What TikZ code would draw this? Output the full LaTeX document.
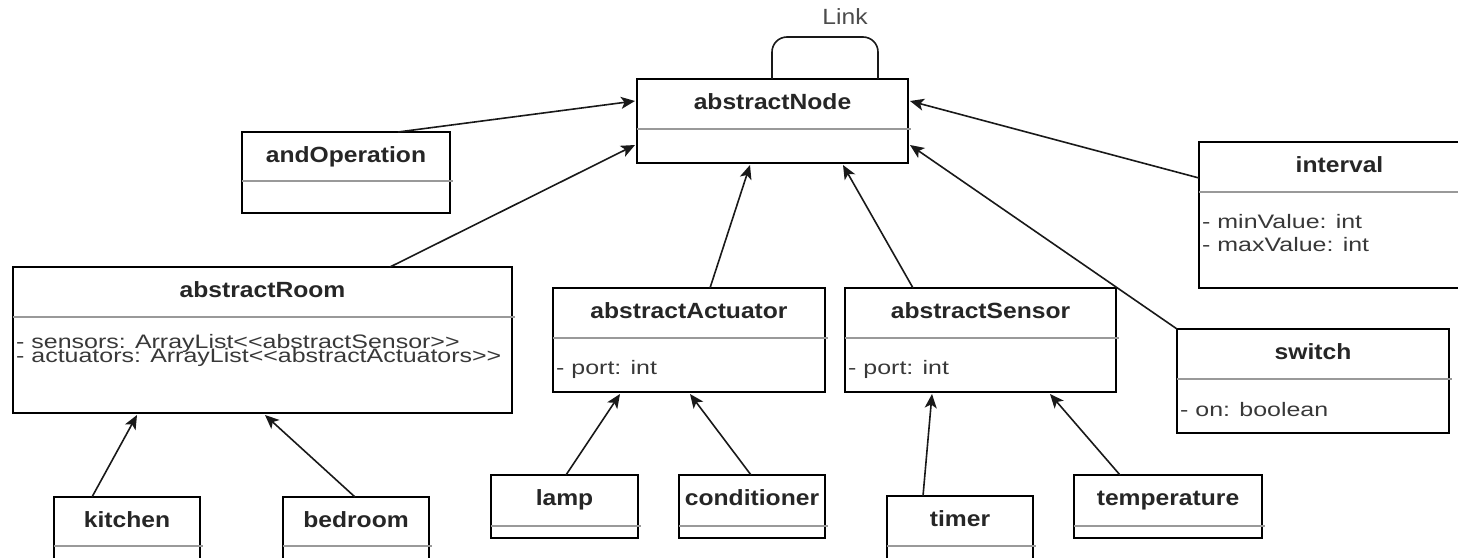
\documentclass[tikz,border=0pt]{standalone}
\usepackage{fontspec}
\setmainfont{Liberation Sans}[FakeStretch=1.12]
\newfontfamily\attrfont{Liberation Sans}[FakeStretch=1.28]
\usetikzlibrary{arrows.meta,calc}
\tikzset{
  clsbox/.style={draw=black, line width=1.8pt, inner sep=0pt, outer sep=0pt, fill=none},
  sepline/.style={draw=black!40, line width=1.3pt},
  ttl/.style={font=\fontsize{22}{24}\selectfont\bfseries, text=black!85, anchor=base, inner sep=0pt},
  attr/.style={font=\attrfont\fontsize{19.5}{21}\selectfont, text=black!78, anchor=base west, inner sep=0pt},
  lbl/.style={font=\fontsize{22}{24}\selectfont, text=black!70, inner sep=0pt},
  inh/.style={-{Stealth[length=14pt,width=12pt,inset=3.5pt]}, line width=1.6pt, draw=black!90},
  loopline/.style={line width=1.6pt, draw=black!90, rounded corners=15pt}
}
\newcommand\umlcls[7]{%
  \node[clsbox, minimum width={(#4-#2)*1pt}, minimum height={(#5-#3)*1pt}] (#1) at ({(#2+#4)/2},{(#3+#5)/2}) {};
  \draw[sepline] (#2,#6) -- ({#4+3},#6);
  \node[ttl] (#1title) at ({(#2+#4)/2},{#3+30}) {#7};
}
\begin{document}
\begin{tikzpicture}[x=1pt,y=-1pt]
\useasboundingbox (0,0) rectangle (1458,557);
\clip (0,0) rectangle (1458,557);
\fill[white] (0,0) rectangle (1458,557);

\umlcls{an}{637}{79}{908}{163}{129}{abstractNode}
\umlcls{andop}{242}{132}{450}{213}{181}{andOperation}
\umlcls{room}{13}{267}{512}{413}{317}{abstractRoom}
\umlcls{act}{553}{288}{825}{392}{338}{abstractActuator}
\umlcls{sen}{845}{288}{1116}{392}{338}{abstractSensor}
\umlcls{interval}{1199}{142}{1480}{288}{192}{interval}
\umlcls{switch}{1177}{329}{1449}{433}{379}{switch}
\umlcls{kitchen}{54}{497}{200}{580}{546}{kitchen}
\umlcls{bedroom}{283}{497}{429}{580}{546}{bedroom}
\umlcls{lamp}{491}{475}{638}{538}{526}{lamp}
\umlcls{cond}{679}{475}{825}{538}{526}{conditioner}
\umlcls{timer}{887}{496}{1033}{580}{546}{timer}
\umlcls{temp}{1074}{475}{1262}{538}{526}{temperature}

\node[attr] (roomA) at (16,348) {- sensors: ArrayList<\kern0pt<abstractSensor>\kern0pt>};
\node[attr] (roomB) at (16,362) {- actuators: ArrayList<\kern0pt<abstractActuators>\kern0pt>};
\node[attr] (actA) at (556,374) {- port: int};
\node[attr] (senA) at (848,374) {- port: int};
\node[attr] (intA) at (1202,228) {- minValue: int};
\node[attr] (intB) at (1202,251) {- maxValue: int};
\node[attr] (swA) at (1180,416) {- on: boolean};

\draw[loopline] ($(an.north west)+(135,0)$) -- ++(0,-42) -- ++(106,0) -- ($(an.north west)+(241,0)$);
\node[lbl] (linklbl) at (845,17) {Link};

\draw[inh] ($(andop.north west)+(156,0)$) -- ($(an.north west)+(-2,22)$);
\draw[inh] ($(room.north west)+(377,0)$) -- ($(an.north west)+(-2,66)$);
\draw[inh] ($(act.north west)+(157,0)$) -- ($(an.south west)+(113,2)$);
\draw[inh] ($(sen.north west)+(68,0)$) -- ($(an.south west)+(206,2)$);
\draw[inh] (switch.north west) -- ($(an.north east)+(2,66)$);
\draw[inh] ($(interval.north west)+(0,36)$) -- ($(an.north east)+(2,22)$);
\draw[inh] ($(kitchen.north west)+(38,0)$) -- ($(room.south west)+(124,2)$);
\draw[inh] ($(bedroom.north west)+(72,0)$) -- ($(room.south west)+(252,2)$);
\draw[inh] ($(lamp.north west)+(75,0)$) -- ($(act.south west)+(67,2)$);
\draw[inh] ($(cond.north west)+(72,0)$) -- ($(act.south west)+(137,2)$);
\draw[inh] ($(timer.north west)+(36,0)$) -- ($(sen.south west)+(87,2)$);
\draw[inh] ($(temp.north west)+(46,0)$) -- ($(sen.south west)+(205,2)$);
\end{tikzpicture}
\end{document}
